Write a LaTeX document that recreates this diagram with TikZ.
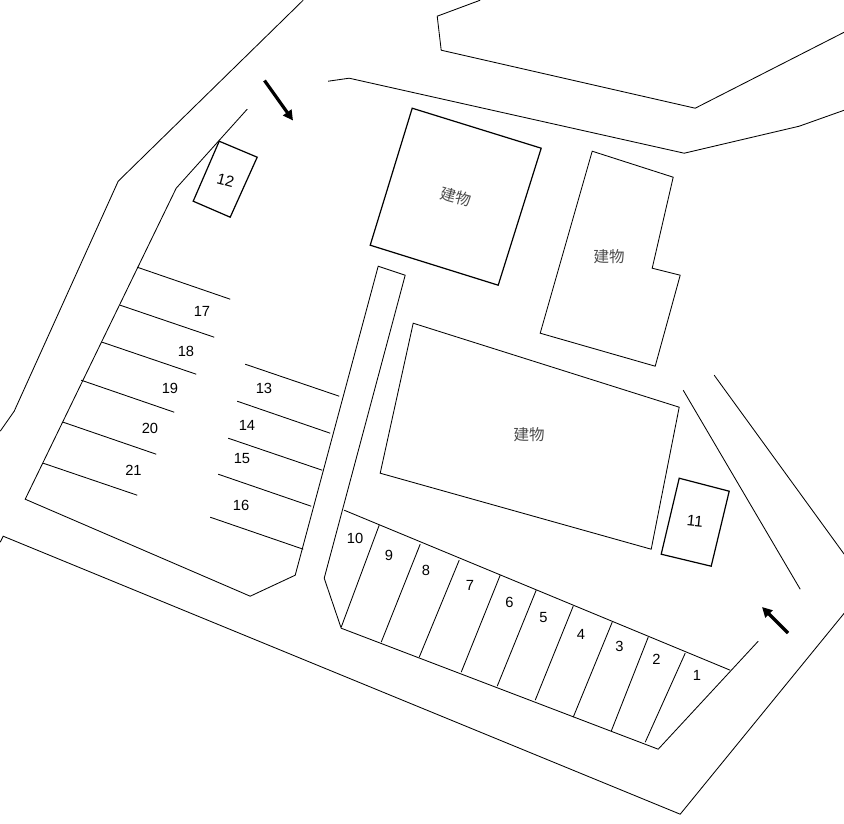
\documentclass[tikz,border=0pt]{standalone}
\usepackage{fontspec}
\setmainfont{Liberation Sans}
\newfontfamily\cjk{Noto Sans CJK JP}[Scale=1]
\usetikzlibrary{arrows.meta}
\tikzset{
  plan/.style={line width=0.85pt,black,line join=miter},
  bldg/.style={line width=1.2pt,black},
  way/.style={line width=3.2pt,black,-{Triangle[length=10pt,width=10pt]}},
  num/.style={font=\fontsize{14.7}{15}\selectfont,inner sep=0pt},
  tilted/.style={font=\fontsize{15.5}{16}\selectfont,inner sep=0pt},
  kanji/.style={font=\cjk\fontsize{15.5}{16}\selectfont,inner sep=0pt,text=black!70}
}
\begin{document}
\begin{tikzpicture}[x=1pt,y=-1pt]
\useasboundingbox (0,0) rectangle (844,823);
\begin{scope}[shift={(0.2,0.2)}]
% roads and outlines
\draw[plan] (303,0)--(118,181)--(14,411)--(0,431);
\draw[plan] (247,109)--(176,188)--(25,499)--(250,596)--(295,575)--(378,266)--(405,275)--(324,578)--(341,628)--(658,749)--(758,641);
\draw[plan] (328,81)--(349,78)--(684,153)--(799,126)--(844,110);
\draw[plan] (480,0)--(437,16)--(441,50)--(695,108)--(844,32);
\draw[plan] (0,542)--(3,536)--(680,814)--(844,613);
\draw[plan] (683,390)--(800,589);
\draw[plan] (714,375)--(844,554);
% buildings
\draw[bldg] (412,108)--(541,148)--(498,285)--(370,245)--cycle;
\draw[plan] (592,151)--(673,177)--(652,268)--(680,275)--(655,366)--(540,333)--cycle;
\draw[plan] (413,323)--(679,407)--(651,549)--(380,473)--cycle;
\draw[bldg] (219,141)--(257,157)--(230,217)--(193,201)--cycle;
\draw[bldg] (679,478)--(729,491)--(711,566)--(661,554)--cycle;
% lower row
\draw[plan] (344,510)--(730,670);
\foreach \a/\b/\c/\d in {379/525/341/627,420/544/381/642,459/560/419/657,500/575/461/672,536/590/497/686,573/606/535/700,612/622/573/717,648/637/611/731,685/653/645/742}
  \draw[plan] (\a,\b)--(\c,\d);
% left rows
\foreach \a/\b/\c/\d in {137/267/230/299,120/305/214/337,102/342/196/374,81/380/174/412,63/422/156/454,43/463/137/495,245/364/339/396,237/401/330/433,228/438/322/470,218/474/311/506,210/517/303/549}
  \draw[plan] (\a,\b)--(\c,\d);
\end{scope}
% arrows
\coordinate (a1s) at (264.5,80.5); \coordinate (a1e) at (293,120.5);
\coordinate (a2s) at (788,633); \coordinate (a2e) at (762,607);
\draw[way] (a1s)--(a1e);
\draw[way] (a2s)--(a2e);
% labels
\foreach \n/\x/\y in {1/697/675.5,2/656.5/659.5,3/619.5/646.5,4/581/634.5,5/543.5/617.5,6/509.5/602.5,7/470/585.5,8/426/570.5,9/389/555.5,10/355/538.5,13/264/388.5,14/247/425.5,15/242/458.5,16/241/505.5,17/202/311.5,18/186/351.5,19/170/388.5,20/150/428.5,21/133.5/470.5}
  \node[num] (n\n) at (\x,\y) {\n};
\node[tilted,rotate=-15] (n12) at (225.5,180.5) {12};
\node[tilted,rotate=-6] (n11) at (695,521.5) {11};
\node[kanji,rotate=-15] (b1) at (456,197) {建物};
\node[kanji] (b2) at (609,257) {建物};
\node[kanji] (b3) at (529,435) {建物};
\end{tikzpicture}
\end{document}
